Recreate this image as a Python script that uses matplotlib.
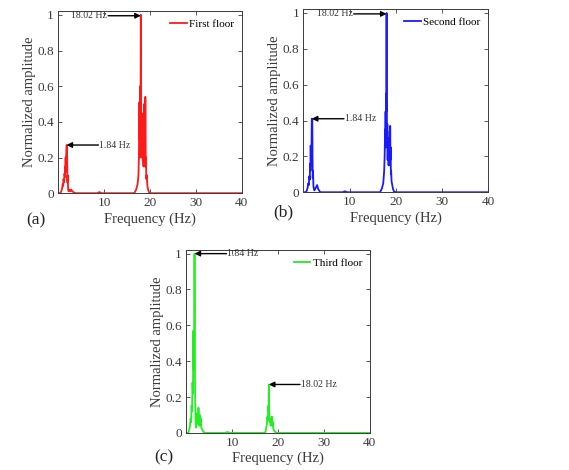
import matplotlib
matplotlib.use("Agg")
import matplotlib.pyplot as plt

# ---- data ----
first_floor = [
    (0, 0), (0.5, 0), (0.7, 0.01), (0.9, 0.03), (1.0, 0.05), (1.1, 0.04), (1.2, 0.08), (1.3, 0.06),
    (1.4, 0.11), (1.5, 0.09), (1.55, 0.15), (1.6, 0.12), (1.65, 0.20), (1.7, 0.12),
    (1.75, 0.18), (1.84, 0.27), (1.95, 0.27), (2.0, 0.15), (2.05, 0.06), (2.1, 0.10),
    (2.2, 0.02), (2.3, 0.01), (2.5, 0.02), (2.7, 0.01), (2.9, 0.02), (3.1, 0.01),
    (3.4, 0.005), (3.8, 0), (8.5, 0), (9.0, 0.006), (9.5, 0), (16.6, 0), (17.0, 0.02),
    (17.3, 0.05), (17.5, 0.10), (17.6, 0.20), (17.7, 0.51), (17.75, 0.30), (17.8, 0.45),
    (17.85, 0.20), (17.9, 0.60), (17.95, 0.40), (18.02, 1.0), (18.08, 0.50), (18.12, 0.30),
    (18.18, 0.45), (18.25, 0.20), (18.3, 0.38), (18.35, 0.25), (18.4, 0.40), (18.45, 0.18),
    (18.5, 0.32), (18.55, 0.20), (18.6, 0.15), (18.65, 0.35), (18.7, 0.20), (18.75, 0.50),
    (18.8, 0.30), (18.85, 0.15), (18.9, 0.52), (18.95, 0.25), (19.0, 0.54), (19.05, 0.30),
    (19.1, 0.15), (19.15, 0.20), (19.2, 0.08), (19.3, 0.10), (19.45, 0.04), (19.6, 0.02),
    (19.8, 0.005), (20.2, 0), (40, 0),
]
second_floor = [
    (0, 0), (0.6, 0), (0.9, 0.02), (1.1, 0.05), (1.2, 0.04), (1.3, 0.09), (1.4, 0.07),
    (1.5, 0.16), (1.55, 0.12), (1.6, 0.26), (1.65, 0.15), (1.7, 0.22), (1.75, 0.18),
    (1.84, 0.41), (1.95, 0.41), (2.0, 0.20), (2.05, 0.08), (2.1, 0.12), (2.2, 0.03),
    (2.4, 0.01), (2.6, 0.02), (2.8, 0.03), (3.0, 0.04), (3.2, 0.02), (3.4, 0.01),
    (3.7, 0), (8.5, 0), (9.0, 0.005), (9.5, 0), (16.6, 0), (17.0, 0.02), (17.3, 0.05),
    (17.5, 0.12), (17.6, 0.20), (17.7, 0.35), (17.75, 0.25), (17.8, 0.45), (17.85, 0.30),
    (17.9, 0.55), (17.95, 0.45), (18.02, 1.0), (18.08, 0.45), (18.12, 0.25), (18.18, 0.38),
    (18.25, 0.18), (18.3, 0.30), (18.35, 0.20), (18.4, 0.28), (18.45, 0.15), (18.5, 0.25),
    (18.55, 0.18), (18.6, 0.30), (18.65, 0.15), (18.7, 0.34), (18.75, 0.20), (18.8, 0.37),
    (18.85, 0.18), (18.9, 0.25), (18.95, 0.10), (19.0, 0.12), (19.1, 0.06), (19.25, 0.04),
    (19.4, 0.02), (19.6, 0.005), (20.0, 0), (40, 0),
]
third_floor = [
    (0, 0), (0.5, 0), (0.8, 0.03), (1.0, 0.08), (1.1, 0.06), (1.2, 0.15), (1.3, 0.12),
    (1.4, 0.28), (1.5, 0.22), (1.55, 0.40), (1.6, 0.57), (1.65, 0.35), (1.7, 0.50),
    (1.75, 0.45), (1.84, 1.0), (1.9, 0.70), (1.95, 0.30), (2.0, 0.15), (2.1, 0.05),
    (2.2, 0.03), (2.3, 0.08), (2.4, 0.05), (2.5, 0.11), (2.6, 0.07), (2.7, 0.14),
    (2.8, 0.08), (2.9, 0.04), (3.0, 0.10), (3.1, 0.06), (3.2, 0.08), (3.3, 0.03),
    (3.5, 0.02), (3.8, 0.005), (4.2, 0), (8.5, 0), (9.0, 0.005), (9.5, 0), (17.2, 0),
    (17.4, 0.02), (17.6, 0.05), (17.7, 0.09), (17.8, 0.07), (17.9, 0.15), (17.95, 0.12),
    (18.02, 0.27), (18.1, 0.12), (18.2, 0.06), (18.3, 0.08), (18.4, 0.04), (18.5, 0.06),
    (18.6, 0.05), (18.7, 0.09), (18.8, 0.04), (18.9, 0.06), (19.0, 0.02), (19.2, 0.01),
    (19.5, 0.003), (19.8, 0), (40, 0),
]

series_labels = ["First floor", "Second floor", "Third floor"]
series_colors = ["#ff1a1a", "#1a1aff", "#22ee22"]
panel_tags = ["(a)", "(b)", "(c)"]
y_ticks = [0, 0.2, 0.4, 0.6, 0.8, 1]
y_tick_labels = ["0", "0.2", "0.4", "0.6", "0.8", "1"]
x_ticks = [10, 20, 30, 40]
x_tick_labels = ["10", "20", "30", "40"]
peak_low = 1.84
peak_high = 18.02
# (peak amplitude at 1.84 Hz, peak amplitude at 18.02 Hz) per floor
peak_amps = [(0.27, 1.0), (0.41, 1.0), (1.0, 0.27)]

plt.rcParams['font.family'] = ['Liberation Serif', 'DejaVu Serif']
fig = plt.figure(figsize=(5.69, 4.70), dpi=100)

positions = [
    [0.102, 0.589, 0.323, 0.387],
    [0.533, 0.591, 0.325, 0.389],
    [0.327, 0.079, 0.323, 0.389],
]
axis_color = "#3a3a3a"

all_series = [first_floor, second_floor, third_floor]

for i, (data, label, color, tag, pos) in enumerate(zip(all_series, series_labels, series_colors, panel_tags, positions)):
    ax = fig.add_axes(pos)
    f = [p[0] for p in data]
    a = [p[1] for p in data]
    ax.plot(f, a, color=color, lw=1.3, label=label)
    ax.set_xlim(0, 40)
    ax.set_ylim(0, 1.02)
    ax.set_xticks(x_ticks)
    ax.set_xticklabels(x_tick_labels)
    ax.set_yticks(y_ticks)
    ax.set_yticklabels(y_tick_labels)
    ax.tick_params(direction='in', length=3, width=0.6, top=True, right=True,
                   labelsize=9.5, colors=axis_color, pad=3)
    for sp in ax.spines.values():
        sp.set_color(axis_color)
        sp.set_linewidth(0.7)
    ax.set_xlabel("Frequency (Hz)", fontsize=10.5, color=axis_color, labelpad=2)
    ax.set_ylabel("Normalized amplitude", fontsize=10.5, color=axis_color, labelpad=1)
    ax.legend(loc='upper right', frameon=False, fontsize=8, handlelength=1.5,
              handletextpad=0.2, borderaxespad=0.3)

    lo_amp, hi_amp = peak_amps[i]
    arrow_kw = dict(arrowstyle='-|>', color='k', lw=1.0, mutation_scale=8,
                    shrinkA=0, shrinkB=0)
    # low-frequency peak: arrow pointing left, text to the right
    ax.annotate('', xy=(peak_low, lo_amp), xytext=(8.8, lo_amp), arrowprops=arrow_kw)
    ax.text(9.0, lo_amp, f"{peak_low:.2f} Hz", fontsize=7, ha='left', va='center', color='#333333')
    # high-frequency peak
    if hi_amp > 0.9:
        ax.annotate('', xy=(peak_high, hi_amp - 0.005), xytext=(10.9, hi_amp - 0.005), arrowprops=arrow_kw)
        ax.text(10.7, hi_amp - 0.005, f"{peak_high:.2f} Hz", fontsize=7, ha='right', va='center', color='#333333')
    else:
        ax.annotate('', xy=(peak_high, hi_amp), xytext=(24.8, hi_amp), arrowprops=arrow_kw)
        ax.text(25.0, hi_amp, f"{peak_high:.2f} Hz", fontsize=7, ha='left', va='center', color='#333333')

# panel tags
fig.text(26 / 569, 1 - 220 / 470, panel_tags[0], fontsize=12.5, ha='left', va='center', color='#222222')
fig.text(273 / 569, 1 - 212 / 470, panel_tags[1], fontsize=12.5, ha='left', va='center', color='#222222')
fig.text(154 / 569, 1 - 457 / 470, panel_tags[2], fontsize=12.5, ha='left', va='center', color='#222222')

fig.savefig("out.png", dpi=100)
